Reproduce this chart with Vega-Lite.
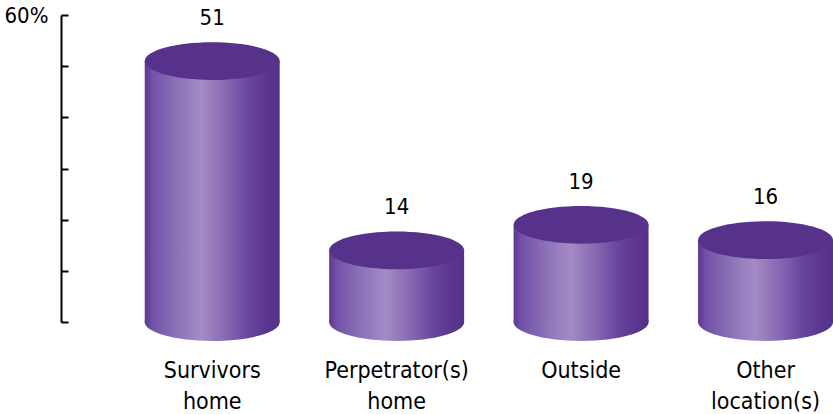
{
  "$schema": "https://vega.github.io/schema/vega-lite/v6.json",
  "autosize": {"type": "none"},
  "padding": {"left": 61, "top": 15, "right": 0, "bottom": 92},
  "width": 772,
  "height": 307,
  "background": "white",
  "config": {"view": {"stroke": null}, "font": "DejaVu Sans Condensed, sans-serif"},
  "data": {
    "values": [
      {"location": "Survivors home", "pct": 51},
      {"location": "Perpetrator(s) home", "pct": 14},
      {"location": "Outside", "pct": 19},
      {"location": "Other location(s)", "pct": 16}
    ]
  },
  "encoding": {
    "x": {
      "field": "location",
      "type": "nominal",
      "sort": null,
      "scale": {"paddingInner": 0.2683, "paddingOuter": 0.227, "align": 1},
      "axis": {
        "title": null,
        "domain": false,
        "ticks": false,
        "labelAngle": 0,
        "labelFontSize": 23,
        "labelColor": "black",
        "labelPadding": 37,
        "labelLineHeight": 31,
        "labelFont": "DejaVu Sans Condensed, sans-serif",
        "labelExpr": "datum.value == 'Survivors home' ? ['Survivors', 'home'] : datum.value == 'Perpetrator(s) home' ? ['Perpetrator(s)', 'home'] : datum.value == 'Other location(s)' ? ['Other', 'location(s)'] : datum.value"
      }
    },
    "y": {
      "field": "pct",
      "type": "quantitative",
      "scale": {"domain": [0, 60], "nice": false},
      "axis": {
        "title": null,
        "grid": false,
        "values": [0, 10, 20, 30, 40, 50, 60],
        "domainColor": "black",
        "domainWidth": 2,
        "tickColor": "black",
        "tickWidth": 2,
        "tickSize": -7,
        "labelPadding": 20,
        "labelFontSize": 22,
        "labelColor": "black",
        "labelFont": "DejaVu Sans Condensed, sans-serif",
        "labelExpr": "datum.value == 60 ? '60%' : ''"
      }
    }
  },
  "layer": [
    {
      "mark": {
        "type": "point",
        "filled": true,
        "opacity": 1,
        "strokeWidth": 0,
        "size": 18225,
        "shape": "M -1 0 C -1 -0.155 -0.552 -0.28 0 -0.28 C 0.552 -0.28 1 -0.155 1 0 C 1 0.155 0.552 0.28 0 0.28 C -0.552 0.28 -1 0.155 -1 0 Z",
        "fill": {
          "gradient": "linear", "x1": 0, "y1": 0, "x2": 1, "y2": 0,
          "stops": [
            {"offset": 0, "color": "#5c3792"},
            {"offset": 0.06, "color": "#7352a8"},
            {"offset": 0.25, "color": "#8d73b8"},
            {"offset": 0.42, "color": "#a48bc6"},
            {"offset": 0.58, "color": "#8a6db5"},
            {"offset": 0.78, "color": "#67449d"},
            {"offset": 0.92, "color": "#5a358e"},
            {"offset": 1, "color": "#55308a"}
          ]
        }
      },
      "encoding": {"y": {"datum": 0}}
    },
    {
      "mark": {
        "type": "bar",
        "fill": {
          "gradient": "linear", "x1": 0, "y1": 0, "x2": 1, "y2": 0,
          "stops": [
            {"offset": 0, "color": "#5c3792"},
            {"offset": 0.06, "color": "#7352a8"},
            {"offset": 0.25, "color": "#8d73b8"},
            {"offset": 0.42, "color": "#a48bc6"},
            {"offset": 0.58, "color": "#8a6db5"},
            {"offset": 0.78, "color": "#67449d"},
            {"offset": 0.92, "color": "#5a358e"},
            {"offset": 1, "color": "#55308a"}
          ]
        }
      }
    },
    {
      "mark": {
        "type": "point",
        "filled": true,
        "opacity": 1,
        "strokeWidth": 0,
        "size": 18225,
        "fill": "#56328b",
        "shape": "M -1 0 C -1 -0.155 -0.552 -0.28 0 -0.28 C 0.552 -0.28 1 -0.155 1 0 C 1 0.155 0.552 0.28 0 0.28 C -0.552 0.28 -1 0.155 -1 0 Z"
      }
    },
    {
      "mark": {
        "type": "text",
        "dy": -36,
        "baseline": "alphabetic",
        "fontSize": 22,
        "color": "black",
        "font": "DejaVu Sans Condensed, sans-serif"
      },
      "encoding": {"text": {"field": "pct", "type": "quantitative"}}
    }
  ]
}
